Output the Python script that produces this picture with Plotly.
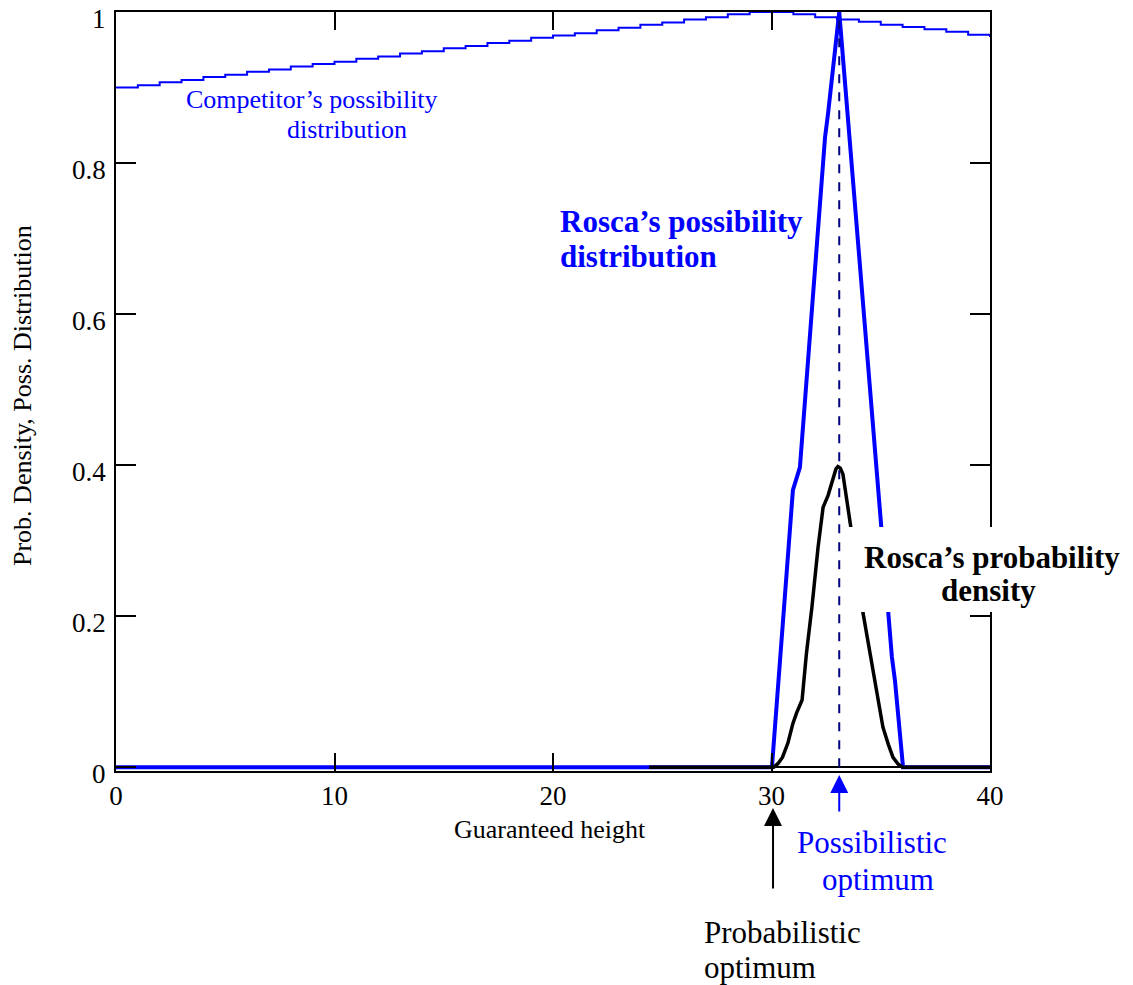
import plotly.graph_objects as go

# ---------------- data ----------------
comp_x = list(range(0, 41))
comp_y = [0.900, 0.903, 0.907, 0.910, 0.914, 0.917, 0.921, 0.924, 0.928, 0.931,
          0.934, 0.938, 0.941, 0.945, 0.948, 0.952, 0.955, 0.959, 0.962, 0.966,
          0.969, 0.972, 0.976, 0.979, 0.983, 0.986, 0.990, 0.993, 0.997, 1.000,
          1.000, 0.997, 0.993, 0.990, 0.987, 0.983, 0.980, 0.977, 0.974, 0.970,
          0.967]

poss_x = [0.0, 30.02, 30.98, 31.30, 32.45, 32.59, 33.10, 34.14, 35.06, 35.51, 35.65, 36.02, 40.0]
poss_y = [0.0, 0.0, 0.367, 0.397, 0.834, 0.866, 1.000, 0.636, 0.318, 0.146, 0.115, 0.0, 0.0]

dens_x = [24.4, 30.1, 30.3, 30.5, 30.75, 30.98, 31.15, 31.4, 31.6, 31.85, 32.13, 32.36, 32.59, 32.81,
          32.95, 33.04, 33.15, 33.27, 33.59, 33.9, 34.19, 34.65, 35.1, 35.35, 35.56, 35.8, 36.0, 40.0]
dens_y = [0.0, 0.0, 0.005, 0.013, 0.032, 0.058, 0.072, 0.089, 0.151, 0.212, 0.291, 0.344, 0.360, 0.384,
          0.395, 0.398, 0.396, 0.388, 0.327, 0.265, 0.204, 0.125, 0.053, 0.030, 0.013, 0.004, 0.0, 0.0]

possibilistic_optimum = 33.1
probabilistic_optimum = 30.07

x_ticks = [0, 10, 20, 30, 40]
y_ticks = [0, 0.2, 0.4, 0.6, 0.8, 1.0]
y_ticktext = ["0", "0.2", "0.4", "0.6", "0.8", "1"]

FONT = "Liberation Serif, Times New Roman, serif"
BLUE = "#0000FF"

# plot area in pixels (for placing text)
L, R, T, B = 116, 990, 12, 771


def px(xp):
    return (xp - L) / (R - L)


def py(yp):
    return (B - yp) / (B - T)


fig = go.Figure()
fig.add_trace(go.Scatter(x=comp_x, y=comp_y, mode="lines", line=dict(color=BLUE, width=2, shape="hv"),
                         showlegend=False, hoverinfo="skip"))
fig.add_trace(go.Scatter(x=poss_x, y=poss_y, mode="lines", line=dict(color=BLUE, width=4),
                         showlegend=False, hoverinfo="skip"))
fig.add_trace(go.Scatter(x=dens_x, y=dens_y, mode="lines", line=dict(color="black", width=3.5),
                         showlegend=False, hoverinfo="skip"))

shapes = [
    dict(type="line", xref="x", yref="y", x0=possibilistic_optimum, x1=possibilistic_optimum, y0=0, y1=1,
         line=dict(color="#000080", width=2, dash="dash"), layer="above"),
    dict(type="rect", xref="paper", yref="paper", x0=px(842), x1=px(1133), y0=py(612), y1=py(527),
         fillcolor="white", line=dict(width=0), layer="above"),
]

ann = []


def label(text, xp, yp, size, color="black", bold=False, anchor="center"):
    if bold:
        text = "<b>" + text + "</b>"
    ann.append(dict(text=text, xref="paper", yref="paper", x=px(xp), y=py(yp), xanchor=anchor, yanchor="middle",
                    showarrow=False, font=dict(family=FONT, size=size, color=color)))


label("Competitor\u2019s possibility", 184, 100, 26, BLUE, anchor="left")
label("distribution", 285, 130, 26, BLUE, anchor="left")
label("Rosca\u2019s possibility", 558, 222, 31, BLUE, True, anchor="left")
label("distribution", 558, 256, 31, BLUE, True, anchor="left")
label("Rosca\u2019s probability", 992, 557, 31, "black", True)
label("density", 988, 590, 31, "black", True)
label("Guaranteed height", 550, 830, 26, "black")
label("Possibilistic", 872, 843, 31, BLUE)
label("optimum", 878, 879, 31, BLUE)
label("Probabilistic", 702, 932, 31, "black", anchor="left")
label("optimum", 702, 967, 31, "black", anchor="left")

ann.append(dict(text="Prob. Density, Poss. Distribution", xref="paper", yref="paper", x=px(22), y=py(396),
                textangle=-90, showarrow=False, xanchor="center", yanchor="middle",
                font=dict(family=FONT, size=26, color="black")))

# y tick labels (sit slightly below their ticks, as in the reference)
for v, t in zip(y_ticks, y_ticktext):
    ann.append(dict(text=t, xref="paper", yref="y", x=px(108), y=v, xanchor="right", yanchor="middle",
                    yshift=-7, showarrow=False, font=dict(family=FONT, size=27, color="black")))

# arrows
ann.append(dict(text="", xref="x", yref="paper", x=probabilistic_optimum, y=py(808), ax=0, ay=82,
                showarrow=True, arrowhead=2, arrowsize=1.8, arrowwidth=2, arrowcolor="black"))
ann.append(dict(text="", xref="x", yref="paper", x=possibilistic_optimum, y=py(775), ax=0, ay=38,
                showarrow=True, arrowhead=2, arrowsize=1.8, arrowwidth=2, arrowcolor=BLUE))

fig.update_layout(
    width=1133, height=985,
    margin=dict(l=L, r=1133 - R, t=T, b=985 - B, autoexpand=False),
    paper_bgcolor="white", plot_bgcolor="white",
    shapes=shapes, annotations=ann,
    font=dict(family=FONT, size=27, color="black"),
)
fig.update_xaxes(range=[0, 40], tickvals=x_ticks, ticks="inside", ticklen=18, tickwidth=2, tickcolor="black",
                 showline=True, linecolor="black", linewidth=2, mirror="ticks", showgrid=False, zeroline=False,
                 automargin=False, ticklabeloverflow="allow",
                 tickfont=dict(family=FONT, size=27, color="black"))
fig.update_yaxes(range=[-0.005, 1.0], tickvals=y_ticks, showticklabels=False, ticks="inside", ticklen=20,
                 tickwidth=2, tickcolor="black", showline=True, linecolor="black", linewidth=2, mirror="ticks",
                 showgrid=False, zeroline=True, zerolinecolor="black", zerolinewidth=1.5, automargin=False)

fig.write_html("out.html")
